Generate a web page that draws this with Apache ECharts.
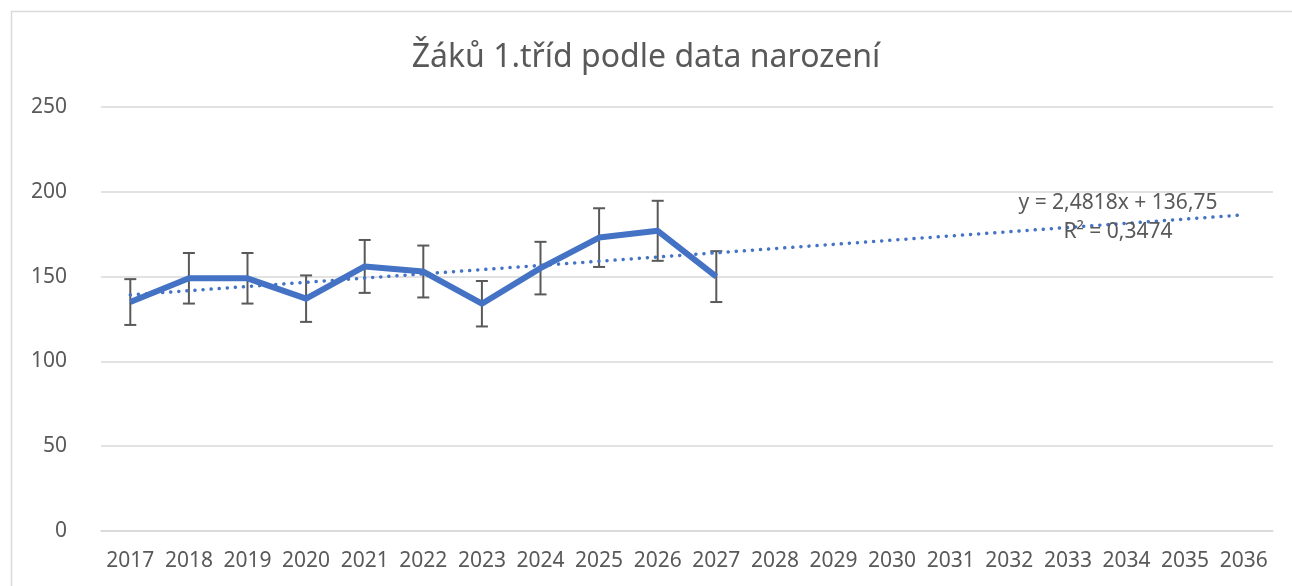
<!DOCTYPE html>
<html>
<head>
<meta charset="utf-8">
<script src="https://cdn.jsdelivr.net/npm/echarts@6/dist/echarts.min.js"></script>
<style>
    html, body {margin: 0; padding: 0; background: #fff;}
    #chart {width: 1292px; height: 586px;}
</style>
</head>
<body>
<div id="chart"></div>
<script>
"use strict";
var years = ['2017', '2018', '2019', '2020', '2021', '2022', '2023', '2024', '2025', '2026',
    '2027', '2028', '2029', '2030', '2031', '2032', '2033', '2034', '2035', '2036'];
var pupils = [135, 149, 149, 137, 156, 153, 134, 155, 173, 177, 150];
// error bar ends (about +-10 %)
var errLow = [121.5, 134.1, 134.1, 123.3, 140.4, 137.7, 120.6, 139.5, 155.7, 159.3, 135];
var errHigh = [148.5, 163.9, 163.9, 150.7, 171.6, 168.3, 147.4, 170.5, 190.3, 194.7, 165];
// dotted trend line: value at 2017 and at 2036
var trendEnds = [139.2, 186.4];
var yTicks = [0, 50, 100, 150, 200, 250];

var textColor = '#595959';
var gridColor = '#d9d9d9';
var fontFamily = '"Noto Sans", "Open Sans", sans-serif';

var trend = years.map(function () { return null; });
trend[0] = trendEnds[0];
trend[years.length - 1] = trendEnds[1];

var errData = errLow.map(function (lo, i) {
    return [i, lo, errHigh[i]];
});

var chart = echarts.init(document.getElementById('chart'), null, {renderer: 'canvas'});
var option = {
    backgroundColor: '#fff',
    animation: false,
    title: {
        text: 'Žáků 1.tříd podle data narození',
        left: 'center', top: 37,
        textStyle: {color: textColor, fontFamily: fontFamily, fontSize: 32, fontWeight: 'normal'}
    },
    graphic: [
        {type: 'rect', left: 9, top: 9, shape: {width: 1300, height: 600},
            style: {fill: null, stroke: gridColor, lineWidth: 1.5}, silent: true},
        {type: 'text', x: 1118, y: 203, style: {text: 'y = 2,4818x + 136,75', fill: textColor,
            font: '21px ' + fontFamily, align: 'center', verticalAlign: 'middle'}, z: 10},
        {type: 'text', x: 1118, y: 232, style: {text: 'R² = 0,3474', fill: textColor,
            font: '21px ' + fontFamily, align: 'center', verticalAlign: 'middle'}, z: 10}
    ],
    grid: {left: 101, right: 19, top: 107, bottom: 55, containLabel: false},
    xAxis: {
        type: 'category', data: years, boundaryGap: true,
        axisLine: {show: true, lineStyle: {color: gridColor, width: 1.5}},
        axisTick: {show: false},
        axisLabel: {color: textColor, fontFamily: fontFamily, fontSize: 21, margin: 20, interval: 0}
    },
    yAxis: {
        type: 'value', min: 0, max: 250, interval: 50,
        axisLine: {show: false}, axisTick: {show: false},
        splitLine: {lineStyle: {color: gridColor, width: 1.5}},
        axisLabel: {
            color: textColor, fontFamily: fontFamily, fontSize: 21, margin: 34,
            formatter: function (v) { return yTicks.indexOf(v) >= 0 ? String(v) : ''; }
        }
    },
    series: [
        {
            name: 'chyba', type: 'custom', data: errData, z: 2,
            renderItem: function (params, api) {
                var x = api.value(0);
                var lo = api.coord([x, api.value(1)]);
                var hi = api.coord([x, api.value(2)]);
                var w = 6;
                var st = {stroke: textColor, lineWidth: 2};
                return {
                    type: 'group',
                    children: [
                        {type: 'line', shape: {x1: lo[0], y1: lo[1], x2: hi[0], y2: hi[1]}, style: st},
                        {type: 'line', shape: {x1: lo[0] - w, y1: lo[1], x2: lo[0] + w, y2: lo[1]}, style: st},
                        {type: 'line', shape: {x1: hi[0] - w, y1: hi[1], x2: hi[0] + w, y2: hi[1]}, style: st}
                    ]
                };
            }
        },
        {
            name: 'žáci', type: 'line', data: pupils, z: 3,
            symbol: 'none', smooth: false,
            lineStyle: {color: '#4472C4', width: 6, join: 'round', cap: 'butt'}
        },
        {
            name: 'trend', type: 'line', data: trend, z: 4, connectNulls: true,
            symbol: 'none',
            lineStyle: {color: '#4472C4', width: 3.5, type: [0.1, 8], cap: 'round'}
        }
    ]
};
chart.setOption(option);
</script>
</body>
</html>
